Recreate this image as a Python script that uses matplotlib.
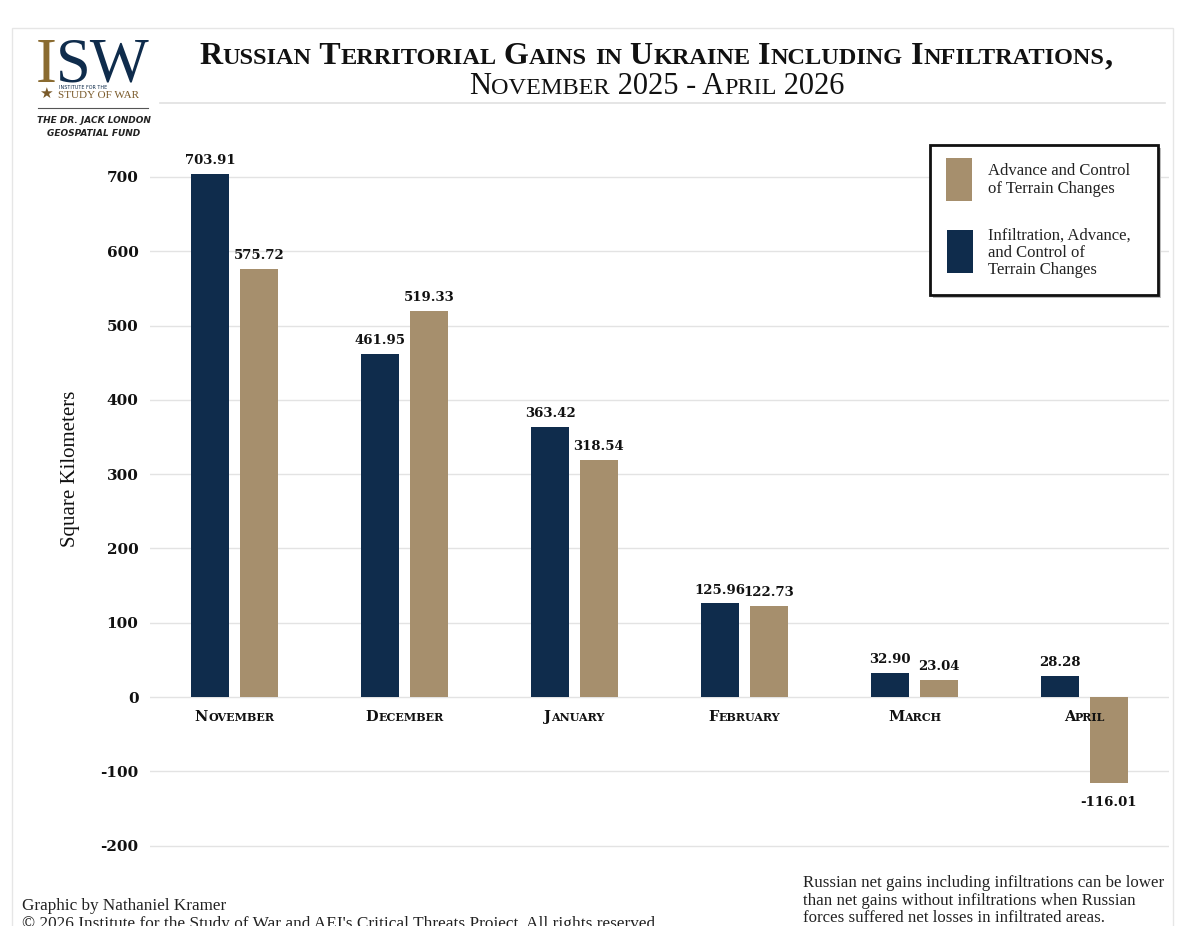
import matplotlib
matplotlib.use("Agg")
import matplotlib.pyplot as plt
from matplotlib.patches import Rectangle
from matplotlib.lines import Line2D
import numpy as np

# data (sq km)
months = ["November", "December", "January", "February", "March", "April"]
with_infil = [703.91, 461.95, 363.42, 125.96, 32.90, 28.28]      # infiltration, advance, control
without_infil = [575.72, 519.33, 318.54, 122.73, 23.04, -116.01]  # advance and control only
yticks = [-200, -100, 0, 100, 200, 300, 400, 500, 600, 700]

NAVY = "#0f2c4c"; TAN = "#a68f6d"; GRID = "#e3e3e3"
SERIF = "Liberation Serif"; BSERIF = "DejaVu Serif"
W, H = 1180, 926

fig = plt.figure(figsize=(W / 100, H / 100), dpi=100)
R = fig.canvas.get_renderer()

def fx(px): return px / W
def fy(py): return 1 - py / H

def tw(s, size, weight, family):
    t = fig.text(0, 0, "|" + s + "|", fontsize=size, weight=weight, family=family)
    t2 = fig.text(0, 0, "||", fontsize=size, weight=weight, family=family)
    w_ = t.get_window_extent(R).width - t2.get_window_extent(R).width
    t.remove(); t2.remove()
    return w_

def smallcaps(xpx, ypx, s, big, small, weight="normal", ha="center", color="k", family=SERIF, zorder=5):
    runs = []
    for ch in s:
        sz, c = (small, ch.upper()) if ch.islower() else (big, ch)
        if runs and runs[-1][1] == sz: runs[-1][0] += c
        else: runs.append([c, sz])
    widths = [tw(r, sz, weight, family) for r, sz in runs]
    tot = sum(widths)
    x0 = xpx - (tot / 2 if ha == "center" else 0)
    for (r, sz), w_ in zip(runs, widths):
        fig.text(fx(x0), fy(ypx), r, fontsize=sz, weight=weight, family=family, color=color,
                 ha="left", va="baseline", zorder=zorder)
        x0 += w_

# page frame
fig.patches.append(Rectangle((fx(12), fy(940)), fx(1161), fy(28) - fy(940), transform=fig.transFigure,
                             fill=False, ec="#e6e6e6", lw=1))

ax = fig.add_axes([0.1267, 0.0627, 0.8644, 0.7944])
x = np.arange(len(months))
bw, off = 0.224, 0.144
ax.bar(x - off, with_infil, bw, color=NAVY, zorder=2)
ax.bar(x + off, without_infil, bw, color=TAN, zorder=2)
for xs, vals in ((x - off, with_infil), (x + off, without_infil)):
    for xi, v in zip(xs, vals):
        ax.annotate(f"{v:.2f}", (xi, v), xytext=(0, 5 if v >= 0 else -9), textcoords="offset points",
                    ha="center", va="bottom" if v >= 0 else "top", fontsize=9.5, weight="bold",
                    family=BSERIF, color="#111")
ax.set_xlim(-0.5, 5.5); ax.set_ylim(-230, 760)
ax.set_yticks(yticks)
ax.set_yticklabels([str(t) for t in yticks], fontsize=11, weight="bold", family=BSERIF, color="#111")
ax.tick_params(axis="y", length=0, pad=8)
ax.set_xticks([])
ax.grid(axis="y", color=GRID, lw=1, zorder=0)
for s in ax.spines.values(): s.set_visible(False)
ax.set_ylabel("Square Kilometers", fontsize=15, family=SERIF, color="#111")
ax.yaxis.set_label_coords(-0.068, 0.542)

# month labels in small caps, drawn over the bars
fig.canvas.draw()
for xi, m in zip(x, months):
    px, py = ax.transData.transform((xi, 0))
    smallcaps(px, H - py + 24, m, 10.5, 8, weight="bold", color="#111", family=BSERIF, zorder=10)

# title
smallcaps(656, 64, "Russian Territorial Gains in Ukraine Including Infiltrations,", 23, 17.5,
          weight="bold", color="#111")
smallcaps(657, 94, "November 2025 - April 2026", 22, 17.5, color="#111")
fig.lines.append(Line2D([fx(160), fx(1165)], [fy(103), fy(103)], transform=fig.transFigure,
                        color="#e0e0e0", lw=1.2))

# logo
fig.text(fx(36), fy(82), "I", fontsize=45, family=SERIF, color="#8a6b30", va="baseline")
fig.text(fx(56), fy(82), "SW", fontsize=45, family=SERIF, color=NAVY, va="baseline")
fig.text(fx(46), fy(98), "\u2605", fontsize=11, family="DejaVu Sans", color="#7a5a2a", ha="center", va="baseline")
fig.text(fx(59), fy(89), "INSTITUTE FOR THE", fontsize=3.5, family="DejaVu Sans", color=NAVY, va="baseline")
fig.text(fx(58), fy(98), "STUDY OF WAR", fontsize=8, family=SERIF, color="#7a5a2a", va="baseline")
fig.lines.append(Line2D([fx(38), fx(148)], [fy(108), fy(108)], transform=fig.transFigure, color="#555", lw=0.8))
fig.text(fx(94), fy(123), "THE DR. JACK LONDON", fontsize=6.5, family="DejaVu Sans", style="italic",
         weight="bold", color="#222", ha="center", va="baseline")
fig.text(fx(94), fy(136), "GEOSPATIAL FUND", fontsize=6.5, family="DejaVu Sans", style="italic",
         weight="bold", color="#222", ha="center", va="baseline")

# legend box
fig.patches.append(Rectangle((fx(933), fy(298)), fx(228), fy(145) - fy(295), transform=fig.transFigure,
                             fc="#bbbbbb", ec="none", zorder=8))
fig.patches.append(Rectangle((fx(930), fy(295)), fx(228), fy(145) - fy(295), transform=fig.transFigure,
                             fc="white", ec="#111", lw=2, zorder=9))
fig.patches.append(Rectangle((fx(946), fy(201)), fx(26), fy(158) - fy(201), transform=fig.transFigure,
                             fc=TAN, ec="none", zorder=10))
fig.patches.append(Rectangle((fx(947), fy(273)), fx(26), fy(230) - fy(273), transform=fig.transFigure,
                             fc=NAVY, ec="none", zorder=10))
for txt, ypx in (("Advance and Control", 175), ("of Terrain Changes", 193),
                 ("Infiltration, Advance,", 240), ("and Control of", 257), ("Terrain Changes", 274)):
    fig.text(fx(988), fy(ypx), txt, fontsize=12, family=SERIF, color="#222", va="baseline", zorder=11)

# footer
fig.text(fx(22), fy(910), "Graphic by Nathaniel Kramer", fontsize=12.3, family=SERIF, color="#222", va="baseline")
fig.text(fx(22), fy(928), "\u00a9 2026 Institute for the Study of War and AEI's Critical Threats Project. All rights reserved.",
         fontsize=12.4, family=SERIF, color="#222", va="baseline")
for txt, ypx in (("Russian net gains including infiltrations can be lower", 887),
                 ("than net gains without infiltrations when Russian", 905),
                 ("forces suffered net losses in infiltrated areas.", 922)):
    fig.text(fx(803), fy(ypx), txt, fontsize=12.2, family=SERIF, color="#222", va="baseline")

fig.savefig("out.png", dpi=100)
